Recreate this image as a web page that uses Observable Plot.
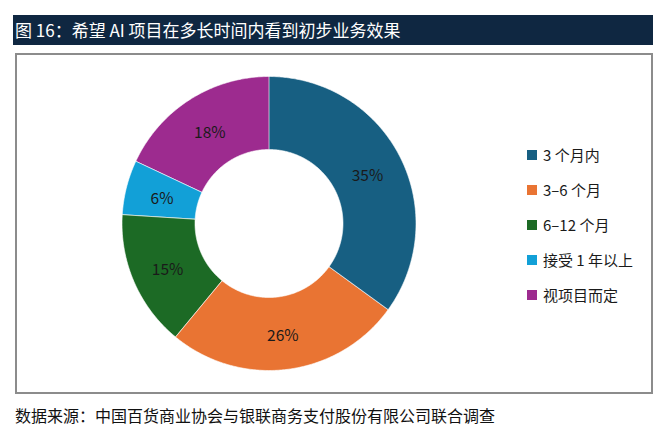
<!DOCTYPE html>
<html>
<head>
<meta charset="utf-8">
<script src="https://cdn.jsdelivr.net/npm/d3@7"></script>
<script src="https://cdn.jsdelivr.net/npm/@observablehq/plot@0.6"></script>
<style>
  html, body { margin: 0; padding: 0; background: #fff; width: 672px; height: 441px; overflow: hidden; }
  body { position: relative; font-family: "Noto Sans CJK SC", "Noto Sans", sans-serif; }
  #title { position: absolute; left: 13px; top: 15px; width: 638px; height: 30px; background: #0f2741; color: #fff;
           font-size: 17px; line-height: 30px; padding-left: 2px; white-space: nowrap; }
  #box { position: absolute; left: 15px; top: 53px; width: 634px; height: 337px; border: 2px solid #8c8c8c; }
  #chart { position: absolute; left: 0; top: 0; }
  #legend { position: absolute; left: 508px; top: 90px; }
  .item { position: absolute; left: 0; height: 20px; white-space: nowrap; font-size: 15px; color: #1a1a1a; line-height: 20px; }
  .sw { position: absolute; left: 2px; top: 5px; width: 10px; height: 10px; }
  .lb { position: absolute; left: 18px; top: 0; }
  #caption { position: absolute; left: 15px; top: 403px; font-size: 16px; color: #111; white-space: nowrap; }
</style>
</head>
<body>
<div id="title">图 16：希望 AI 项目在多长时间内看到初步业务效果</div>
<div id="box"><div id="chart"></div><div id="legend"></div></div>
<div id="caption">数据来源：中国百货商业协会与银联商务支付股份有限公司联合调查</div>
<script>
const categories = ["3 个月内", "3–6 个月", "6–12 个月", "接受 1 年以上", "视项目而定"];
const values = [35, 26, 15, 6, 18];
const labels = ["35%", "26%", "15%", "6%", "18%"];
const colors = ["#175f82", "#e97433", "#1c6a25", "#12a0d7", "#9d2b8f"];

const data = categories.map((c, i) => ({category: c, value: values[i], label: labels[i]}));
const pie = d3.pie().value(d => d.value).sort(null)(data);
const inner = 74 / 147;

// polygon vertices for each slice (angle measured clockwise from top)
const poly = [];
pie.forEach(p => {
  const n = Math.max(8, Math.ceil((p.endAngle - p.startAngle) / 0.01));
  for (let k = 0; k <= n; k++) {
    const a = p.startAngle + (p.endAngle - p.startAngle) * k / n;
    poly.push({category: p.data.category, x: Math.sin(a), y: Math.cos(a)});
  }
  for (let k = n; k >= 0; k--) {
    const a = p.startAngle + (p.endAngle - p.startAngle) * k / n;
    poly.push({category: p.data.category, x: inner * Math.sin(a), y: inner * Math.cos(a)});
  }
});
const rMid = (1 + inner) / 2;
const textPts = pie.map(p => {
  const a = (p.startAngle + p.endAngle) / 2;
  return {label: p.data.label, x: rMid * Math.sin(a), y: rMid * Math.cos(a)};
});

const cx = 251.5, cy = 168, R = 147;
const chart = Plot.plot({
  width: 634, height: 337,
  margin: 0,
  x: {domain: [-1, 1], range: [cx - R, cx + R], axis: null},
  y: {domain: [-1, 1], range: [cy + R, cy - R], axis: null},
  color: {domain: categories, range: colors},
  style: {background: "transparent", fontFamily: "'Noto Sans CJK SC', 'Noto Sans', sans-serif"},
  marks: [
    Plot.line(poly, {x: "x", y: "y", z: "category", fill: "category", stroke: "#ffffff", strokeWidth: 0.6, curve: "linear-closed"}),
    Plot.text(textPts, {x: "x", y: "y", text: "label", fontSize: 15.5, dy: 3, fill: "#1a1a1a"})
  ]
});
document.getElementById("chart").appendChild(chart);

const legend = document.getElementById("legend");
categories.forEach((c, i) => {
  const it = document.createElement("div");
  it.className = "item";
  it.style.top = (i * 35) + "px";
  it.innerHTML = `<span class="sw" style="background:${colors[i]}"></span><span class="lb">${c}</span>`;
  legend.appendChild(it);
});
</script>
</body>
</html>
